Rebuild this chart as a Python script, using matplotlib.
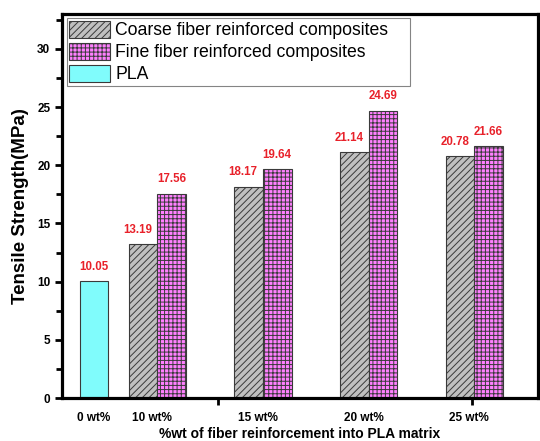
import matplotlib.pyplot as plt

plt.rcParams['font.family'] = ['Liberation Sans', 'DejaVu Sans']
plt.rcParams['hatch.linewidth'] = 0.7

# data
groups = ["10 wt%", "15 wt%", "20 wt%", "25 wt%"]
coarse = [13.19, 18.17, 21.14, 20.78]
fine = [17.56, 19.64, 24.69, 21.66]
pla_label = "0 wt%"
pla = [10.05]

group_x = [1, 2, 3, 4]
pla_x = 0.4
w = 0.27

fig = plt.figure(figsize=(5.4, 4.41), dpi=100)
ax = fig.add_axes([0.115, 0.0975, 0.881, 0.871])

cx = [x - w / 2 for x in group_x]
fx = [x + w / 2 for x in group_x]
ax.bar(cx, coarse, w, color="#c0c0c0", edgecolor="#3a3a3a", hatch="/////",
       linewidth=0.8, label="Coarse fiber reinforced composites")
ax.bar(fx, fine, w, color="#ff80ff", edgecolor="#3a3a3a", hatch="++++",
       linewidth=0.8, label="Fine fiber reinforced composites")
ax.bar([pla_x], pla, w, color="#80fcfc", edgecolor="#3a3a3a",
       linewidth=0.8, label="PLA")

lbl = dict(color="#e8212a", fontsize=8.3, fontweight="bold", textcoords="offset points")
for x, v in zip(cx, coarse):
    ax.annotate(f"{v:.2f}", (x, v), xytext=(-4, 6), ha="center", va="bottom", **lbl)
for x, v in zip(fx, fine):
    ax.annotate(f"{v:.2f}", (x, v), xytext=(0, 6), ha="center", va="bottom", **lbl)
ax.annotate(f"{pla[0]:.2f}", (pla_x, pla[0]), xytext=(0, 6), ha="center", va="bottom", **lbl)

ax.set_xlim(0.1, 4.6)
ax.set_ylim(0, 33)
ax.set_yticks([0, 5, 10, 15, 20, 25, 30])
ax.set_yticks([2.5, 7.5, 12.5, 17.5, 22.5, 27.5, 32.5], minor=True)
ax.set_xticks([pla_x] + [x - 0.05 for x in group_x])
ax.set_xticklabels([pla_label] + groups, fontweight="bold", fontsize=8.5)
ax.set_xticks([1.57, 3.98], minor=True)
ax.tick_params(axis="x", which="major", length=0, pad=10)
ax.tick_params(axis="x", which="minor", length=5, width=2, direction="out")
ax.tick_params(axis="y", which="major", length=5, width=2, direction="out", labelsize=8.5)
ax.tick_params(axis="y", which="minor", length=4, width=2, direction="out")
for t in ax.get_yticklabels():
    t.set_fontweight("bold")

for s in ax.spines.values():
    s.set_linewidth(2.3)

ax.set_ylabel("Tensile Strength(MPa)", fontweight="bold", fontsize=13.5, labelpad=6)
ax.set_xlabel("%wt of fiber reinforcement into PLA matrix", fontweight="bold", fontsize=10, labelpad=2)

# the legend text ends well before the right border in the original
names = ["Coarse fiber reinforced composites    ", "Fine fiber reinforced composites", "PLA"]
handles, _ = ax.get_legend_handles_labels()
leg = ax.legend(handles, names, loc="upper left", fontsize=12.7, frameon=True, fancybox=False,
                handlelength=2.3, handleheight=1.1, borderpad=0.15, labelspacing=0.2,
                handletextpad=0.3, borderaxespad=0.25)
leg.get_frame().set_edgecolor("#666666")
leg.get_frame().set_linewidth(0.8)

fig.savefig("out.png", dpi=100)
